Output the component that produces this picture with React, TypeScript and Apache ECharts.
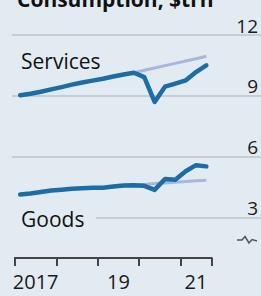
import React, { useEffect, useRef } from "react";
import * as echarts from "echarts";

// Quarterly data, US real consumption, $trn
const quarters = [
  "2017Q1", "2017Q2", "2017Q3", "2017Q4",
  "2018Q1", "2018Q2", "2018Q3", "2018Q4",
  "2019Q1", "2019Q2", "2019Q3", "2019Q4",
  "2020Q1", "2020Q2", "2020Q3", "2020Q4",
  "2021Q1", "2021Q2", "2021Q3",
];
const services = [
  9.03, 9.1, 9.2, 9.32, 9.43, 9.55, 9.66, 9.75, 9.84, 9.95, 10.05, 10.14,
  9.92, 8.7, 9.45, 9.6, 9.76, 10.17, 10.5,
];
const goods = [
  4.13, 4.18, 4.26, 4.33, 4.37, 4.42, 4.44, 4.46, 4.47, 4.53, 4.58, 4.59,
  4.56, 4.36, 4.9, 4.86, 5.28, 5.58, 5.52,
];
const trendStart = "2019Q4";
const servicesTrend = [10.14, 10.26, 10.37, 10.49, 10.6, 10.72, 10.83, 10.95];
const goodsTrend = [4.59, 4.63, 4.67, 4.7, 4.74, 4.77, 4.81, 4.84];

const yTicks = [3, 6, 9, 12];
const xLabelValues = [2017.5, 2019.5, 2021.375];
const xLabels = ["2017", "19", "21"];

const BG = "#e2ebf2";
const BLUE = "#1c6da3";
const TREND = "#a7b6dc";
const FONT = "Open Sans";

function qToYear(q: string): number {
  const y = parseInt(q.slice(0, 4), 10);
  const n = parseInt(q.slice(5), 10);
  return y + (n - 1) * 0.25 + 0.125;
}

function pairs(vals: number[], offset: number): [number, number][] {
  return vals.map((v, i) => [qToYear(quarters[i + offset]), v]);
}

export default function App() {
  const ref = useRef<HTMLDivElement>(null);
  useEffect(() => {
    if (!ref.current) return;
    const chart = echarts.init(ref.current, null, { renderer: "svg" });
    const tOff = quarters.indexOf(trendStart);
    chart.setOption({
      animation: false,
      backgroundColor: BG,
      grid: [
        { left: 15, right: 49.5, top: 35, bottom: 38 },
        { left: 12, right: 0, top: 35, bottom: 17.7 },
      ],
      xAxis: [
        {
          type: "value",
          gridIndex: 0,
          min: 2017,
          max: 2021.75,
          interval: 1,
          axisLine: { show: true, lineStyle: { color: "#444", width: 2, cap: "square" } },
          axisTick: { show: true, length: 8, lineStyle: { color: "#444", width: 2 } },
          splitLine: { show: false },
          axisLabel: {
            customValues: xLabelValues,
            formatter: (v: number) => {
              const i = xLabelValues.findIndex((x) => Math.abs(x - v) < 1e-6);
              return i >= 0 ? xLabels[i] : "";
            },
            fontFamily: FONT,
            fontSize: 20,
            lineHeight: 20,
            color: "#1a1a1a",
            margin: 13,
          },
        },
        { type: "value", gridIndex: 1, show: false, min: 0, max: 1 },
      ],
      yAxis: [
        { type: "value", gridIndex: 0, min: 1, max: 12, show: false },
        {
          type: "value",
          gridIndex: 1,
          min: 0,
          max: 12,
          interval: 3,
          position: "right",
          axisLine: { show: false },
          axisTick: { show: false },
          splitLine: {
            show: true,
            showMinLine: false,
            lineStyle: { color: "#b9c4cc", width: 1.5 },
          },
          axisLabel: {
            inside: true,
            showMinLabel: false,
            verticalAlign: "bottom",
            margin: 3,
            fontFamily: FONT,
            fontSize: 19,
            color: "#1a1a1a",
            formatter: (v: number) => (yTicks.includes(v) ? String(v) : ""),
          },
        },
      ],
      series: [
        {
          type: "line",
          xAxisIndex: 0,
          yAxisIndex: 0,
          data: pairs(servicesTrend, tOff),
          showSymbol: false,
          lineStyle: { color: TREND, width: 3 },
          z: 2,
        },
        {
          type: "line",
          xAxisIndex: 0,
          yAxisIndex: 0,
          data: pairs(goodsTrend, tOff),
          showSymbol: false,
          lineStyle: { color: TREND, width: 3 },
          z: 2,
        },
        {
          type: "line",
          xAxisIndex: 0,
          yAxisIndex: 0,
          data: pairs(services, 0),
          showSymbol: false,
          lineStyle: { color: BLUE, width: 4.5, cap: "round", join: "round" },
          z: 3,
        },
        {
          type: "line",
          xAxisIndex: 0,
          yAxisIndex: 0,
          data: pairs(goods, 0),
          showSymbol: false,
          lineStyle: { color: BLUE, width: 4.5, cap: "round", join: "round" },
          z: 3,
        },
      ],
      graphic: [
        {
          type: "text",
          left: 17,
          top: -12,
          style: {
            text: "Consumption, $trn",
            fontFamily: FONT,
            fontWeight: "bold",
            fontSize: 21,
            fill: "#111",
          },
        },
        {
          type: "text",
          x: 21,
          y: 50,
          style: { text: "Services", fontFamily: FONT, fontSize: 21, fill: "#111" },
        },
        {
          type: "rect",
          shape: { x: 12, y: 207, width: 84, height: 28 },
          style: { fill: BG },
          z: 10,
        },
        {
          type: "text",
          x: 21,
          y: 208,
          style: { text: "Goods", fontFamily: FONT, fontSize: 21, fill: "#111" },
          z: 11,
        },
        {
          type: "polyline",
          shape: {
            points: [
              [237, 240],
              [242, 240],
              [245, 236.5],
              [249, 243],
              [252, 239.5],
              [257, 241],
            ],
          },
          style: { stroke: "#555", lineWidth: 1.5, fill: "none" },
          z: 10,
        },
      ],
    });
    return () => chart.dispose();
  }, []);
  return (
    <div
      ref={ref}
      style={{ position: "absolute", left: 0, top: 0, width: 261, height: 296 }}
    />
  );
}
